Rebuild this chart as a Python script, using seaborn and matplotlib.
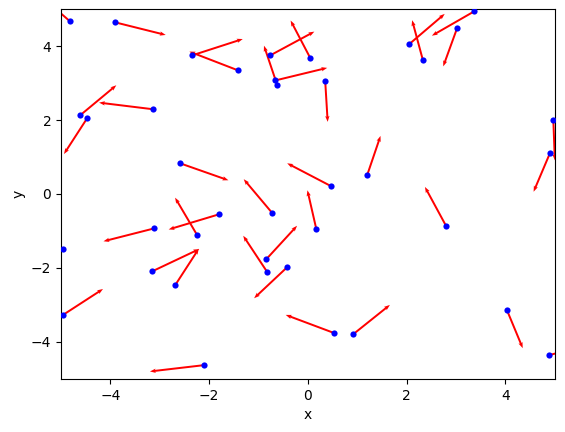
import matplotlib
matplotlib.use("Agg")
import matplotlib.pyplot as plt
import seaborn as sns
import pandas as pd

x = [-4.82, -3.90, -2.34, -1.41, -0.76, -0.66, -0.62, 0.05, -4.61, -4.47,
     -3.13, -2.59, 2.05, 2.33, 3.37, 3.02, 0.35, 4.97, 4.90, 1.20,
     0.47, 0.17, 2.80, 0.53, 0.92, 4.03, 4.88, -0.72, -2.24, -1.80,
     -3.11, -4.97, -3.15, -2.69, -0.82, -0.84, -0.42, -4.97, -2.11]
y = [4.67, 4.64, 3.75, 3.34, 3.75, 3.07, 2.94, 3.67, 2.13, 2.05,
     2.29, 0.83, 4.05, 3.61, 4.94, 4.48, 3.05, 1.99, 1.10, 0.51,
     0.21, -0.95, -0.87, -3.76, -3.79, -3.14, -4.36, -0.52, -1.12, -0.55,
     -0.93, -1.49, -2.09, -2.47, -2.12, -1.76, -1.98, -3.28, -4.63]
u = [-0.30, 1.02, 1.02, -0.99, 0.89, 1.05, -0.27, -0.40, 0.73, -0.47,
     -1.10, 0.98, 0.72, -0.22, -0.86, -0.28, 0.05, 0.03, -0.33, 0.27,
     -0.89, -0.18, -0.43, -0.98, 0.74, 0.32, 1.00, -0.58, -0.45, -1.02,
     -1.03, -0.90, 0.95, 0.48, -0.49, 0.62, -0.67, 0.82, -1.09]
v = [0.35, -0.34, 0.44, 0.51, 0.64, 0.34, 1.07, 1.02, 0.81, -0.97,
     0.18, -0.46, 0.82, 1.09, -0.66, -1.03, -1.10, -1.08, -1.04, 1.06,
     0.62, 1.05, 1.06, 0.49, 0.79, -1.03, 0.35, 0.92, 1.02, -0.41,
     -0.35, -0.50, 0.60, 0.99, 0.99, 0.90, -0.84, 0.71, -0.17]

df = pd.DataFrame({"x": x, "y": y, "u": u, "v": v})

fig, ax = plt.subplots(figsize=(5.65, 4.32), dpi=100)
fig.subplots_adjust(left=0.108, right=0.982, top=0.979, bottom=0.123)

ax.quiver(df["x"], df["y"], df["u"], df["v"], angles="xy", scale_units="xy",
          scale=1, color="red", width=0.004, headwidth=2.2, headlength=3,
          headaxislength=2.6, zorder=2)
sns.scatterplot(data=df, x="x", y="y", color="blue", s=20, linewidth=0,
                ax=ax, zorder=3)

ax.set_xlim(-5, 5)
ax.set_ylim(-5, 5)
ax.set_xticks([-4, -2, 0, 2, 4])
ax.set_yticks([-4, -2, 0, 2, 4])
ax.set_xlabel("x")
ax.set_ylabel("y")

fig.savefig("out.png", dpi=100)
